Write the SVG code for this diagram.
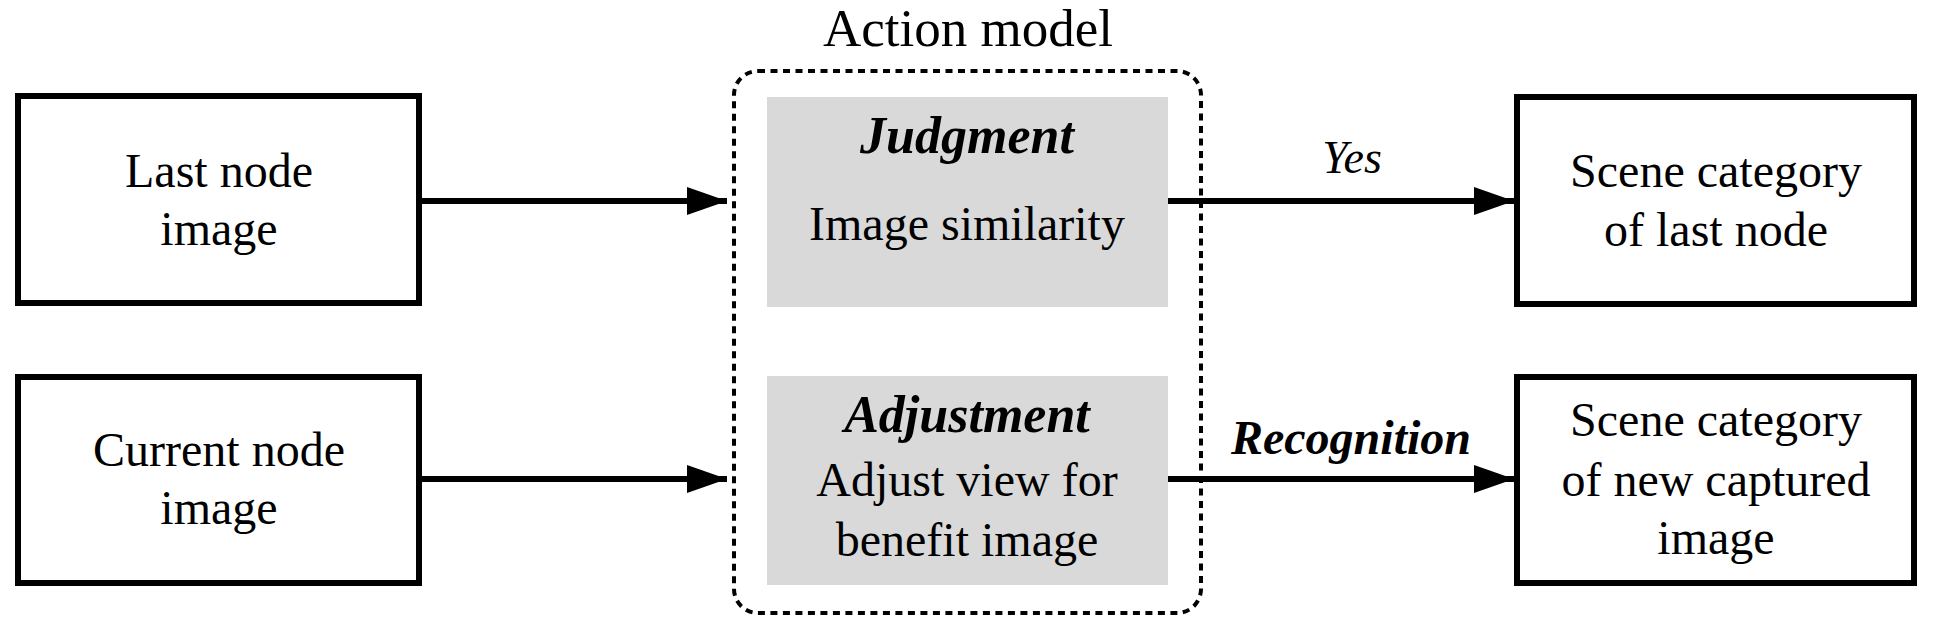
<svg xmlns="http://www.w3.org/2000/svg" width="1935" height="630" viewBox="0 0 1935 630">
<defs>
<style>
.box{fill:#fff;stroke:#000;stroke-width:6}
.gray{fill:#d9d9d9;stroke:none}
.t{font-family:"Liberation Serif","Times New Roman",serif;font-size:48px;fill:#000;text-anchor:middle}
.bi{font-weight:bold;font-style:italic}
.it{font-style:italic}
.conn{stroke:#000;stroke-width:6;fill:none}
</style>
<marker id="ah" markerUnits="userSpaceOnUse" markerWidth="42" markerHeight="30" refX="40" refY="14" orient="auto" viewBox="0 0 42 30">
<path d="M0,0 L40,14 L0,28 Z" fill="#000"/>
</marker>
</defs>
<rect width="1935" height="630" fill="#fff"/>
<g id="action-model">
<rect x="734" y="71" width="467" height="542" rx="24" ry="24" fill="none" stroke="#000" stroke-width="4" stroke-dasharray="7,5.5"/>
<text class="t" x="968" y="46" style="font-size:53px">Action model</text>
</g>
<g id="judgment">
<rect class="gray" x="767" y="97" width="401" height="210"/>
<text class="t bi" x="967" y="153" style="font-size:52px">Judgment</text>
<text class="t" x="967" y="240">Image similarity</text>
</g>
<g id="adjustment">
<rect class="gray" x="767" y="376" width="401" height="209"/>
<text class="t bi" x="967" y="432" style="font-size:52px">Adjustment</text>
<text class="t" x="967" y="496">Adjust view for</text>
<text class="t" x="967" y="556">benefit image</text>
</g>
<g id="last-node">
<rect class="box" x="18" y="96" width="401" height="207"/>
<text class="t" x="219" y="187">Last node</text>
<text class="t" x="219" y="245">image</text>
</g>
<g id="current-node">
<rect class="box" x="18" y="377" width="401" height="206"/>
<text class="t" x="219" y="466">Current node</text>
<text class="t" x="219" y="524">image</text>
</g>
<g id="scene-last">
<rect class="box" x="1517" y="97" width="397" height="207"/>
<text class="t" x="1716" y="187">Scene category</text>
<text class="t" x="1716" y="246">of last node</text>
</g>
<g id="scene-new">
<rect class="box" x="1517" y="377" width="397" height="206"/>
<text class="t" x="1716" y="436">Scene category</text>
<text class="t" x="1716" y="496">of new captured</text>
<text class="t" x="1716" y="554">image</text>
</g>
<g id="connectors">
<line class="conn" x1="419" y1="201" x2="727" y2="201" marker-end="url(#ah)"/>
<line class="conn" x1="419" y1="479" x2="727" y2="479" marker-end="url(#ah)"/>
<line class="conn" x1="1168" y1="201" x2="1514" y2="201" marker-end="url(#ah)"/>
<line class="conn" x1="1168" y1="479" x2="1514" y2="479" marker-end="url(#ah)"/>
<text class="t it" x="1352" y="173" style="font-size:46px">Yes</text>
<text class="t bi" x="1351" y="454" style="font-size:48px">Recognition</text>
</g>
</svg>
